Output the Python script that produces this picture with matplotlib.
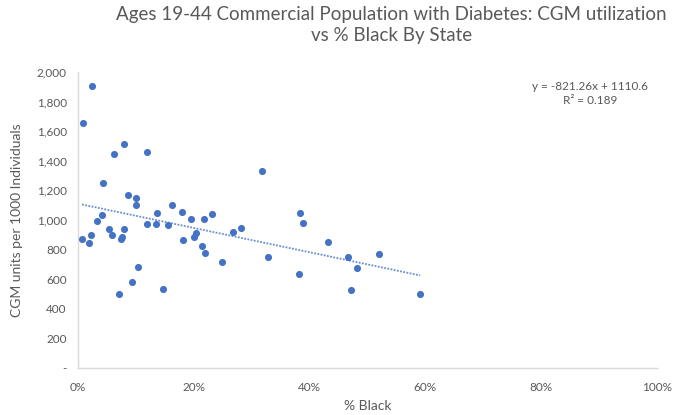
import numpy as np
import matplotlib
matplotlib.use("Agg")
import matplotlib.pyplot as plt
from matplotlib.ticker import FuncFormatter

plt.rcParams['font.family'] = ['Lato', 'DejaVu Sans']

# % Black by state (as fraction) and CGM units per 1000 individuals
pct_black = [0.008, 0.025, 0.079, 0.062, 0.120, 0.044, 0.087, 0.100, 0.101, 0.163,
             0.137, 0.180, 0.041, 0.032, 0.196, 0.217, 0.231, 0.119, 0.134, 0.155,
             0.054, 0.080, 0.007, 0.019, 0.022, 0.059, 0.076, 0.075, 0.104, 0.094,
             0.070, 0.147, 0.182, 0.200, 0.204, 0.215, 0.220, 0.249, 0.267, 0.281,
             0.317, 0.329, 0.383, 0.388, 0.382, 0.432, 0.467, 0.482, 0.472, 0.520,
             0.591]
cgm_units = [1653, 1907, 1511, 1446, 1457, 1250, 1169, 1151, 1104, 1104,
             1050, 1057, 1032, 993, 1007, 1007, 1043, 973, 973, 966,
             937, 941, 872, 847, 901, 901, 885, 869, 685, 581,
             498, 534, 865, 887, 914, 824, 777, 716, 916, 946,
             1333, 752, 1050, 977, 637, 853, 747, 677, 527, 770,
             498]

# linear trendline as reported in the chart
slope = -821.26
intercept = 1110.6
r_squared = 0.189

blue = '#4472C4'
gray = '#595959'

fig = plt.figure(figsize=(6.74, 4.15), dpi=100)
ax = fig.add_axes([0.1157, 0.1133, 0.8591, 0.7132])

ax.scatter(pct_black, cgm_units, s=26, color=blue, zorder=3, linewidths=0)

xs = np.array([min(pct_black), max(pct_black)])
ax.plot(xs, slope * xs + intercept, color=blue, alpha=0.8, lw=1.3,
        linestyle=(0, (1, 0.8)), zorder=2)

ax.set_xlim(0, 1)
ax.set_ylim(0, 2000)
ax.set_xticks(np.arange(0, 1.01, 0.2))
ax.set_yticks(np.arange(0, 2001, 200))
ax.xaxis.set_major_formatter(FuncFormatter(lambda v, p: f'{v*100:.0f}%'))
ax.yaxis.set_major_formatter(FuncFormatter(lambda v, p: '-' if v == 0 else f'{v:,.0f}'))
ax.tick_params(length=0, labelsize=8.5, labelcolor=gray)
ax.tick_params(axis='x', pad=10)
ax.tick_params(axis='y', pad=8)

for side in ['top', 'right']:
    ax.spines[side].set_visible(False)
for side in ['left', 'bottom']:
    ax.spines[side].set_color('#D9D9D9')
    ax.spines[side].set_linewidth(1)

ax.set_xlabel('% Black', fontsize=10, color=gray, labelpad=5)
ax.set_ylabel('CGM units per 1000 Individuals', fontsize=10, color=gray, labelpad=10)

fig.text(0.581, 0.985, 'Ages 19-44 Commercial Population with Diabetes: CGM utilization\nvs % Black By State',
         ha='center', va='top', fontsize=13.5, color=gray, linespacing=1.3)

ax.text(0.885, 0.968, f'y = {slope}x + {intercept}\nR² = {r_squared}',
        transform=ax.transAxes, ha='center', va='top', fontsize=8.5, color=gray,
        linespacing=1.3)

fig.savefig('out.png', dpi=100)
